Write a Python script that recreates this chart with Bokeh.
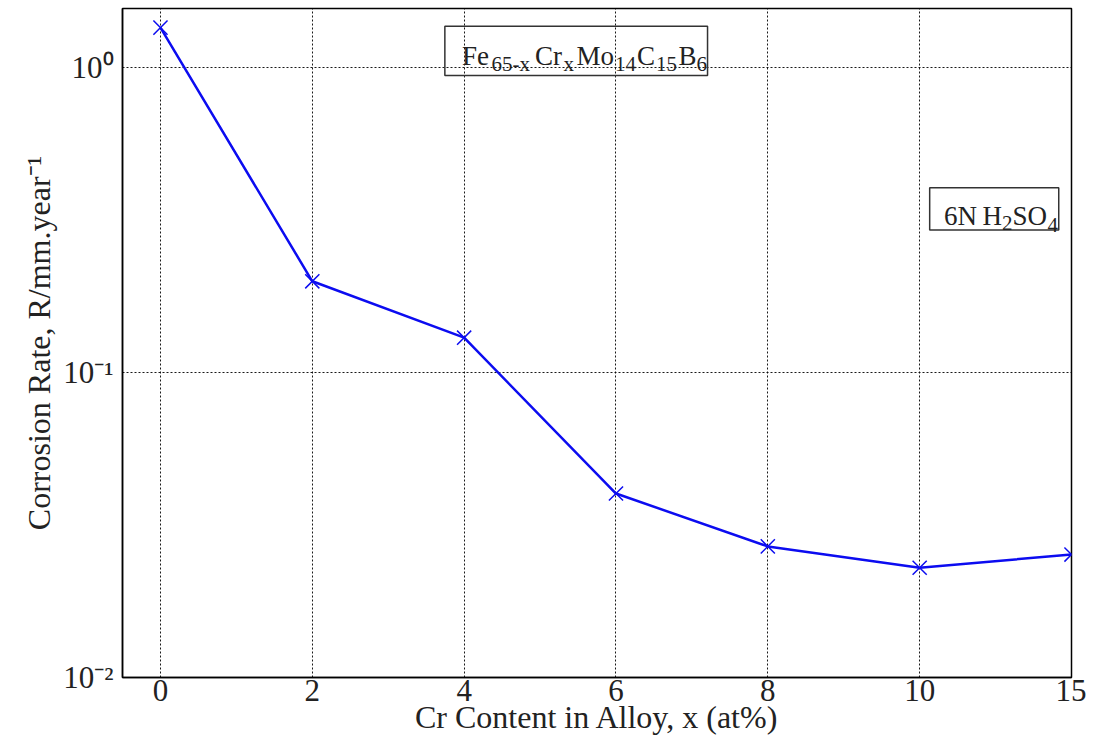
from bokeh.plotting import figure
from bokeh.models import Range1d, FixedTicker, BoxAnnotation, Label, ColumnDataSource
from bokeh.embed import file_html
from bokeh.resources import INLINE

# ---- data ----
cr_content = ["0", "2", "4", "6", "8", "10", "15"]
corrosion_rate = [1.35, 0.199, 0.130, 0.0401, 0.0269, 0.0229, 0.0253]
y_ticks = [0.01, 0.1, 1.0]
y_tick_labels = ["10\u207b\u00b2", "10\u207b\u00b9", "10\u2070"]

positions = list(range(len(cr_content)))
src = ColumnDataSource(dict(x=positions, y=corrosion_rate, label=cr_content))

FONT = "Liberation Serif"
TXT = "#222222"

p = figure(width=1086, height=737, output_backend="svg", toolbar_location=None,
           y_axis_type="log",
           x_range=Range1d(-0.25, 6.0), y_range=Range1d(0.01, 1.56),
           min_border_left=122, min_border_right=15, min_border_top=8, min_border_bottom=0)
p.background_fill_color = "white"
p.border_fill_color = "white"
p.outline_line_color = "black"
p.outline_line_width = 1.5
p.outline_line_alpha = 1.0

# axes
p.xaxis.ticker = FixedTicker(ticks=positions)
p.xaxis.major_label_overrides = {i: c for i, c in zip(positions, cr_content)}
p.yaxis.ticker = FixedTicker(ticks=y_ticks)
p.yaxis.major_label_overrides = {t: l for t, l in zip(y_ticks, y_tick_labels)}

for ax in (p.xaxis, p.yaxis):
    ax.major_tick_line_color = None
    ax.minor_tick_line_color = None
    ax.major_tick_out = 0
    ax.major_tick_in = 0
    ax.axis_line_color = "black"
    ax.axis_line_width = 1.5
    ax.major_label_text_font = FONT
    ax.major_label_text_font_size = "31px"
    ax.major_label_text_color = TXT
    ax.axis_label_text_font = FONT
    ax.axis_label_text_font_size = "32px"
    ax.axis_label_text_font_style = "normal"
    ax.axis_label_text_color = TXT

p.xaxis.axis_label = "Cr Content in Alloy, x (at%)"
p.xaxis.major_label_standoff = 2
p.xaxis.axis_label_standoff = -5
p.yaxis.axis_label = "Corrosion Rate, R/mm.year\u207b\u00b9"
p.yaxis.major_label_standoff = 9
p.yaxis.axis_label_standoff = 3

# grid
for g in (p.xgrid, p.ygrid):
    g.grid_line_color = "black"
    g.grid_line_dash = "2 2"
    g.grid_line_width = 1
    g.grid_line_alpha = 0.9
p.ygrid.minor_grid_line_color = None

# series
BLUE = "#0c0cf0"
p.line("x", "y", source=src, line_color=BLUE, line_width=2.5)
p.scatter("x", "y", source=src, marker="x", size=20, line_color=BLUE, line_width=1.5)

# annotation boxes
p.add_layout(BoxAnnotation(left=1.873, right=3.603, top=1.364, bottom=0.941,
                           fill_color=None, fill_alpha=0, line_color="#333333",
                           line_width=1.5, line_alpha=1))
p.add_layout(BoxAnnotation(left=5.066, right=5.916, top=0.4029, bottom=0.2932,
                           fill_color=None, fill_alpha=0, line_color="#333333",
                           line_width=1.5, line_alpha=1))

def piece(txt, dx, dy, size):
    p.add_layout(Label(x=0, y=1.0, x_offset=dx, y_offset=dy, text=txt,
                       text_font=FONT, text_font_size=size, text_color=TXT,
                       text_align="left", text_baseline="alphabetic"))

MAIN, SUB = "27px", "21px"
# Fe65-x Crx Mo14 C15 B6
piece("Fe", 301.5, 11, MAIN)
piece("65-x", 331, 3, SUB)
piece("Cr", 374.5, 11, MAIN)
piece("x", 403, 3, SUB)
piece("Mo", 416, 11, MAIN)
piece("14", 454.5, 3, SUB)
piece("C", 476.5, 11, MAIN)
piece("15", 495.5, 3, SUB)
piece("B", 518, 11, MAIN)
piece("6", 536, 3, SUB)
# 6N H2SO4
piece("6N", 783.5, -149, MAIN)
piece("H", 822, -149, MAIN)
piece("2", 841.5, -156, SUB)
piece("SO", 852, -149, MAIN)
piece("4", 887, -158, SUB)

open("out.html", "w").write(file_html(p, INLINE))
